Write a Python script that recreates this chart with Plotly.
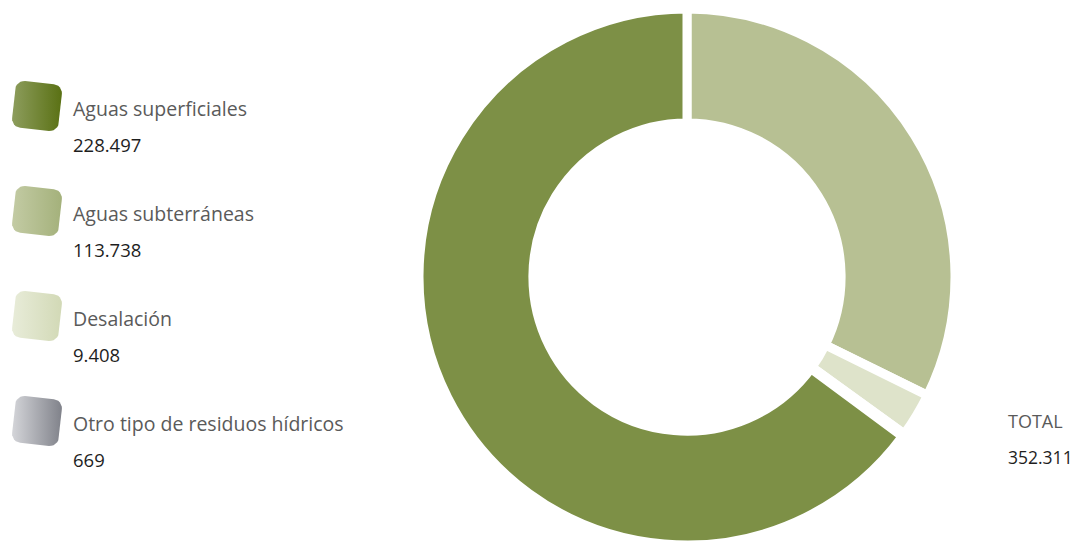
import math
import plotly.graph_objects as go

labels = ["Aguas superficiales", "Aguas subterráneas", "Desalación", "Otro tipo de residuos hídricos"]
values = [228497, 113738, 9408, 669]
value_text = ["228.497", "113.738", "9.408", "669"]
slice_colors = ["#7d9046", "#b7c093", "#dee3ca", "#a7a9af"]
swatch_grad = [("#8d9d5d", "#5a7114"), ("#c3cba4", "#a4b17b"),
               ("#e8ecd9", "#d2d9b6"), ("#d4d5d9", "#80828a")]
total_label = "TOTAL"
total_text = "352.311"

# draw order on the donut (clockwise from 12 o'clock)
order = [1, 2, 3, 0]

W, H = 1074, 545
fig = go.Figure()
fig.add_trace(go.Pie(
    labels=[labels[i] for i in order],
    values=[values[i] for i in order],
    marker=dict(colors=[slice_colors[i] for i in order], line=dict(color="white", width=9)),
    hole=0.575,
    sort=False,
    direction="clockwise",
    rotation=0,
    textinfo="none",
    hoverinfo="label+value",
    showlegend=False,
    domain=dict(x=[419 / W, 955 / W], y=[0.0, 536 / H]),
))


def rounded_square_pts(cx, cy, s, r, ang_deg, n=6):
    h = s / 2
    corners = [(h - r, -h + r, -90, 0), (h - r, h - r, 0, 90),
               (-h + r, h - r, 90, 180), (-h + r, -h + r, 180, 270)]
    pts = []
    for ccx, ccy, a0, a1 in corners:
        for k in range(n + 1):
            a = math.radians(a0 + (a1 - a0) * k / n)
            pts.append((ccx + r * math.cos(a), ccy + r * math.sin(a)))
    pts.append(pts[0])
    t = math.radians(ang_deg)
    xs = [cx + px * math.cos(t) - py * math.sin(t) for px, py in pts]
    ys = [cy + px * math.sin(t) + py * math.cos(t) for px, py in pts]
    return xs, ys


annotations = []
y_start, step = 106, 105
for k in range(len(labels)):
    cy = y_start + k * step
    xs, ys = rounded_square_pts(37, cy, 47, 9, 6)
    c0, c1 = swatch_grad[k]
    fig.add_trace(go.Scatter(
        x=xs, y=ys, mode="lines", fill="toself", line=dict(width=0, color=c1),
        fillgradient=dict(type="horizontal", colorscale=[[0, c0], [1, c1]],
                          start=min(xs), stop=max(xs)),
        hoverinfo="skip", showlegend=False, xaxis="x", yaxis="y"))
    annotations.append(dict(x=71, y=cy + 2, xref="x", yref="y", text=labels[k],
                            showarrow=False, xanchor="left", yanchor="middle",
                            font=dict(family="Open Sans", size=19.5, color="#5a5a5a")))
    annotations.append(dict(x=71, y=cy + 38, xref="x", yref="y", text=value_text[k],
                            showarrow=False, xanchor="left", yanchor="middle",
                            font=dict(family="Open Sans", size=18.5, color="#1e1e1e")))

annotations.append(dict(x=1006, y=421, xref="x", yref="y", text=total_label,
                        showarrow=False, xanchor="left", yanchor="middle",
                        font=dict(family="Open Sans", size=18, color="#5a5a5a")))
annotations.append(dict(x=1006, y=457, xref="x", yref="y", text=total_text,
                        showarrow=False, xanchor="left", yanchor="middle",
                        font=dict(family="Open Sans", size=17.5, color="#1e1e1e")))

fig.update_layout(
    width=W, height=H,
    margin=dict(l=0, r=0, t=0, b=0),
    paper_bgcolor="white", plot_bgcolor="rgba(0,0,0,0)",
    xaxis=dict(range=[0, W], visible=False, fixedrange=True),
    yaxis=dict(range=[H, 0], visible=False, fixedrange=True),
    annotations=annotations,
)

fig.write_html("out.html")
